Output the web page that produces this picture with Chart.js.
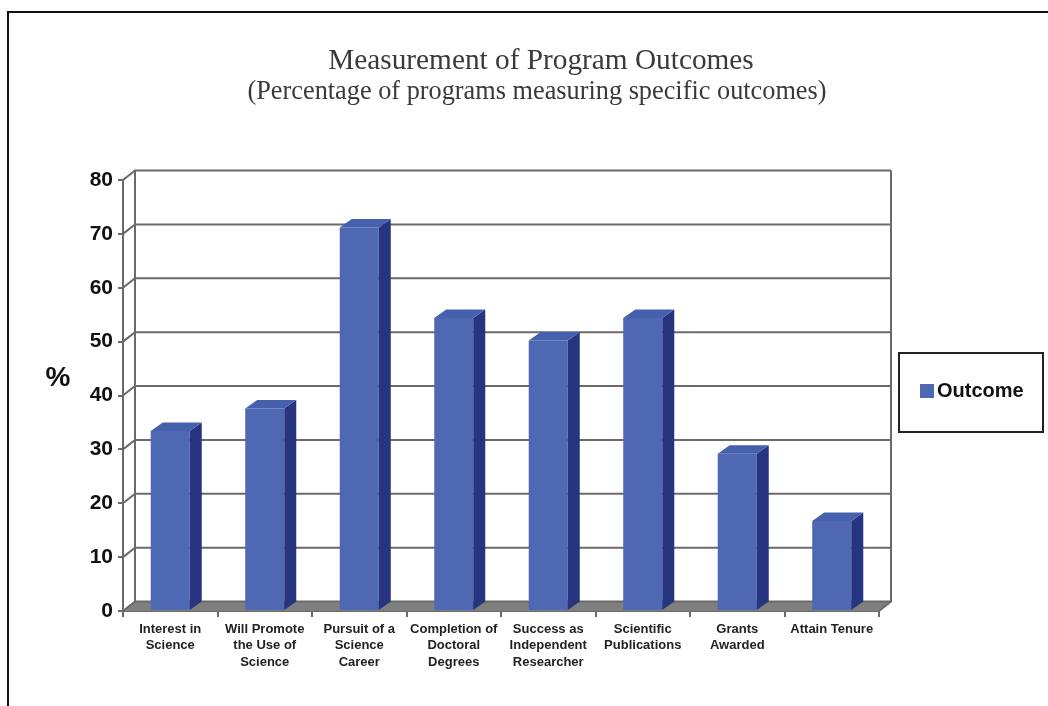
<!DOCTYPE html>
<html>
<head>
<meta charset="utf-8">
<title>Measurement of Program Outcomes</title>
<script src="https://cdn.jsdelivr.net/npm/chart.js@4"></script>
<style>
  html, body { margin: 0; padding: 0; background: #fff; overflow: hidden; }
  canvas { display: block; filter: blur(0.5px); }
</style>
</head>
<body>
<canvas id="myChart" width="1048" height="706"></canvas>
<script>
// values
const titleLines = ['Measurement of Program Outcomes', '(Percentage of programs measuring specific outcomes)'];
const categories = [
  ['Interest in', 'Science'],
  ['Will Promote', 'the Use of', 'Science'],
  ['Pursuit of a', 'Science', 'Career'],
  ['Completion of', 'Doctoral', 'Degrees'],
  ['Success as', 'Independent', 'Researcher'],
  ['Scientific', 'Publications'],
  ['Grants', 'Awarded'],
  ['Attain Tenure']
];
const outcome = [33.4, 37.6, 71.2, 54.4, 50.2, 54.4, 29.2, 16.7];
const seriesName = 'Outcome';
const yLabel = '%';

const barColor = '#4f68b4';
const sideColor = '#27347f';
const topColor = '#4561ae';
const lineColor = '#6a6a6a';
const depthX = 12;   // how far the back wall sits from the front axes
const depthY = 9.5;

// walls, floor and gridlines go behind the bars
const wallsPlugin = {
  id: 'walls',
  beforeDatasetsDraw(chart) {
    const { ctx, chartArea: a, scales: { y } } = chart;
    ctx.save();
    ctx.fillStyle = '#7f7f7f';
    ctx.beginPath();
    ctx.moveTo(a.left, a.bottom);
    ctx.lineTo(a.left + depthX, a.bottom - depthY);
    ctx.lineTo(a.right + depthX, a.bottom - depthY);
    ctx.lineTo(a.right, a.bottom);
    ctx.closePath();
    ctx.fill();

    ctx.strokeStyle = lineColor;
    ctx.lineWidth = 2;
    y.ticks.forEach(t => {
      const py = y.getPixelForValue(t.value);
      ctx.beginPath();
      ctx.moveTo(a.left, py);
      ctx.lineTo(a.left + depthX, py - depthY);
      ctx.lineTo(a.right + depthX, py - depthY);
      ctx.stroke();
    });
    ctx.beginPath();
    ctx.moveTo(a.left + depthX, a.bottom - depthY);
    ctx.lineTo(a.left + depthX, a.top - depthY);
    ctx.moveTo(a.right + depthX, a.top - depthY);
    ctx.lineTo(a.right + depthX, a.bottom - depthY);
    ctx.lineTo(a.right, a.bottom);
    ctx.stroke();
    ctx.restore();
  },
  // side and top faces of every bar, taken from the bar elements
  afterDatasetsDraw(chart) {
    const { ctx } = chart;
    const dx = 12, dy = 8.5;
    ctx.save();
    chart.getDatasetMeta(0).data.forEach(bar => {
      const l = bar.x - bar.width / 2;
      const r = bar.x + bar.width / 2;
      ctx.fillStyle = sideColor;
      ctx.beginPath();
      ctx.moveTo(r, bar.y);
      ctx.lineTo(r + dx, bar.y - dy);
      ctx.lineTo(r + dx, bar.base - dy);
      ctx.lineTo(r, bar.base);
      ctx.closePath();
      ctx.fill();
      ctx.fillStyle = topColor;
      ctx.beginPath();
      ctx.moveTo(l, bar.y);
      ctx.lineTo(l + dx, bar.y - dy);
      ctx.lineTo(r + dx, bar.y - dy);
      ctx.lineTo(r, bar.y);
      ctx.closePath();
      ctx.fill();
    });
    ctx.restore();
  },
  // page frame, title, % label and the boxed legend
  afterDraw(chart) {
    const { ctx } = chart;
    ctx.save();
    ctx.strokeStyle = '#111';
    ctx.lineWidth = 2;
    ctx.beginPath();
    ctx.moveTo(8, 706);
    ctx.lineTo(8, 12);
    ctx.lineTo(1048, 12);
    ctx.stroke();

    ctx.fillStyle = '#3a3a3a';
    ctx.textAlign = 'center';
    ctx.textBaseline = 'middle';
    ctx.font = '29.3px "Liberation Serif"';
    ctx.fillText(titleLines[0], 541, 61);
    ctx.font = '26.3px "Liberation Serif"';
    ctx.fillText(titleLines[1], 537, 92);

    ctx.fillStyle = '#111';
    ctx.font = 'bold 28px "Liberation Sans"';
    ctx.fillText(yLabel, 58, 378);

    ctx.strokeStyle = '#222';
    ctx.lineWidth = 2;
    ctx.strokeRect(899, 353, 144, 79);
    ctx.fillStyle = barColor;
    ctx.fillRect(920, 384, 14, 14);
    ctx.fillStyle = '#111';
    ctx.textAlign = 'left';
    ctx.font = 'bold 20px "Liberation Sans"';
    ctx.fillText(chart.data.datasets[0].label, 937, 391);
    ctx.restore();
  }
};

const ctx = document.getElementById('myChart').getContext('2d');
const myChart = new Chart(ctx, {
  type: 'bar',
  data: {
    labels: categories,
    datasets: [{
      label: seriesName,
      data: outcome,
      backgroundColor: barColor,
      barPercentage: 0.413,
      categoryPercentage: 1
    }]
  },
  options: {
    responsive: false,
    animation: false,
    layout: { padding: { top: 180, right: 169, bottom: 0, left: 0 } },
    plugins: { legend: { display: false }, title: { display: false }, tooltip: { enabled: false } },
    scales: {
      x: {
        afterFit: s => { s.height = 95; },
        border: { display: true, color: lineColor, width: 2 },
        grid: { drawOnChartArea: false, drawTicks: true, tickLength: 6, color: lineColor, lineWidth: 2 },
        ticks: {
          autoSkip: false,
          maxRotation: 0,
          minRotation: 0,
          padding: 4,
          color: '#222',
          font: { family: '"Liberation Sans"', weight: 'bold', size: 13, lineHeight: 1.27 }
        }
      },
      y: {
        min: 0,
        max: 80,
        afterFit: s => { s.width = 123; },
        border: { display: true, color: lineColor, width: 2 },
        grid: { drawOnChartArea: false, drawTicks: true, tickLength: 5, color: lineColor, lineWidth: 2 },
        ticks: {
          stepSize: 10,
          padding: 5,
          color: '#111',
          font: { family: '"Liberation Sans"', weight: 'bold', size: 21 }
        }
      }
    }
  },
  plugins: [wallsPlugin]
});
</script>
</body>
</html>
